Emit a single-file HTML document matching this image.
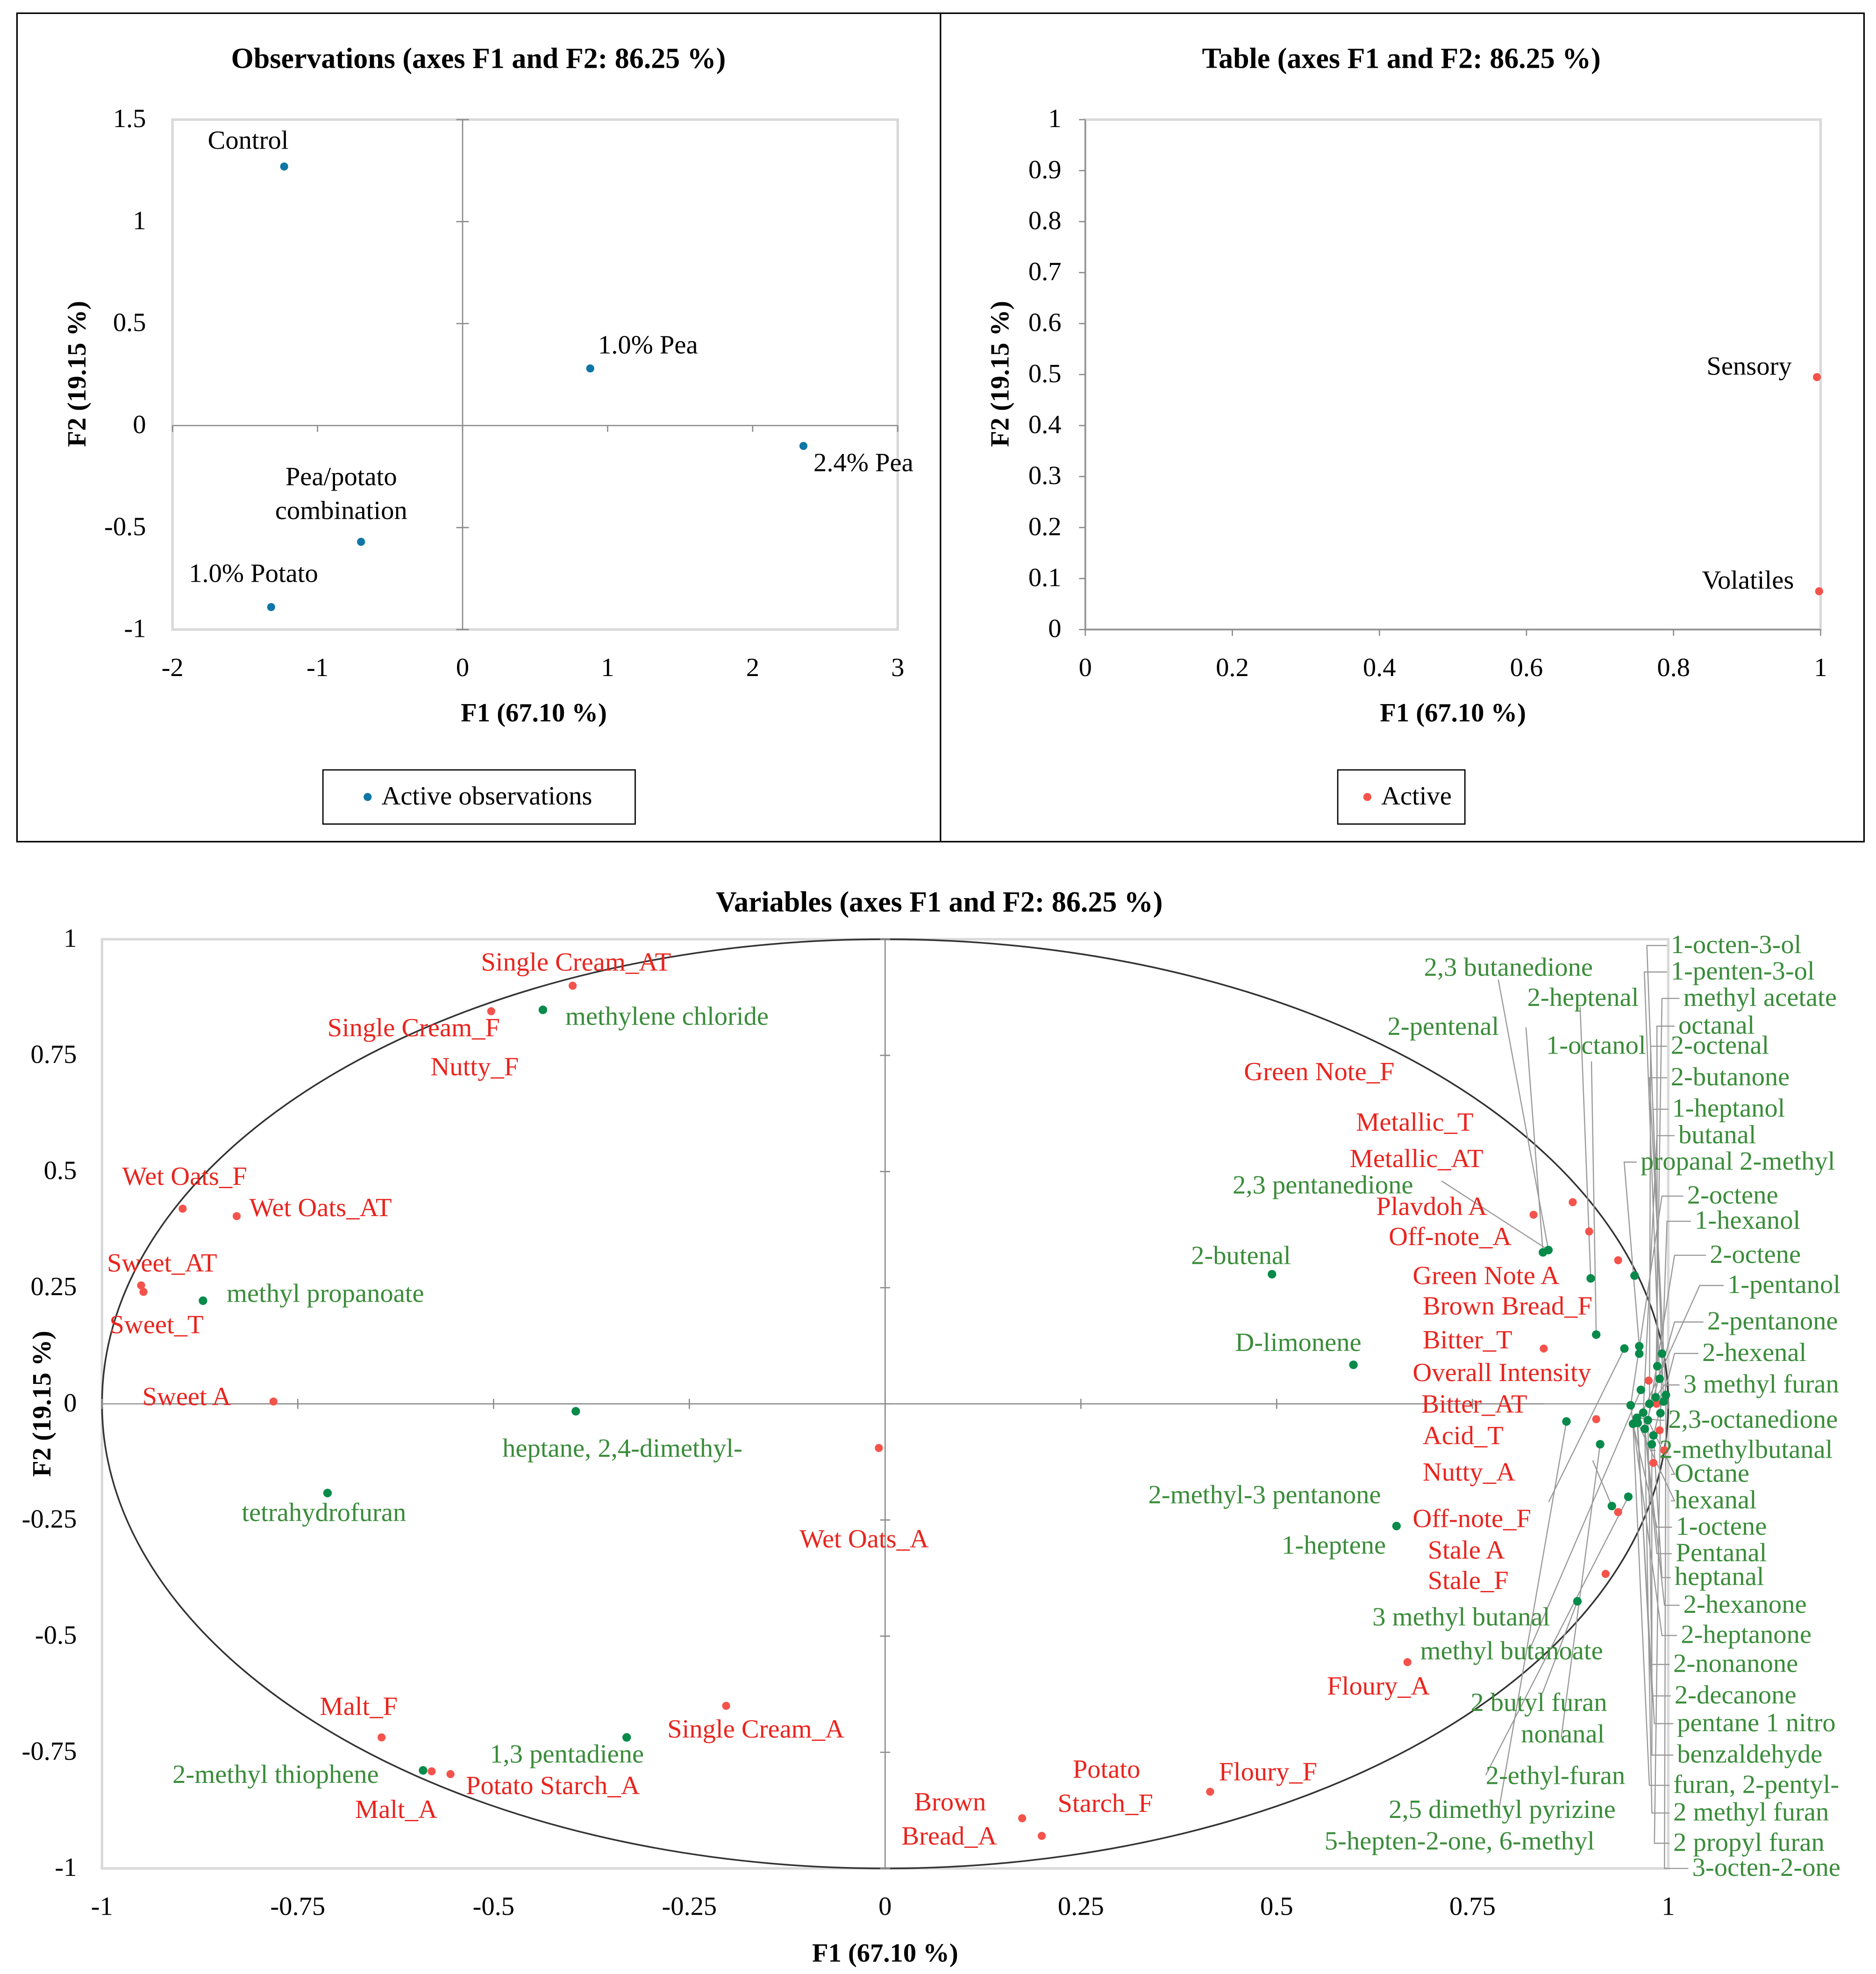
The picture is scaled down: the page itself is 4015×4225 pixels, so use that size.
<!DOCTYPE html>
<html><head><meta charset="utf-8"><style>
html,body{margin:0;padding:0;background:#fff;}
svg, svg text{font-family:"Liberation Serif","DejaVu Serif",serif;}
</style></head><body>
<svg id="s" width="4015" height="4220" viewBox="0 0 1490 1566" preserveAspectRatio="none" xmlns="http://www.w3.org/2000/svg" font-family="Liberation Serif, serif">
<rect x="0" y="0" width="1490" height="1566" fill="#fff"/>
<rect x="13.5" y="10.5" width="1467" height="658" fill="none" stroke="#000" stroke-width="1.2"/>
<line x1="747" y1="10" x2="747" y2="669" stroke="#000" stroke-width="1.2"/>
<g id="g1"></g>
<g id="g2"></g>
<g id="g3"></g>
</svg>
<script>
// ---- Observations data ----
const obsNames=["Control","1.0% Pea","2.4% Pea","Pea/potato combination","1.0% Potato"];
const obsF1=[-1.23,0.88,2.35,-0.70,-1.32];
const obsF2=[1.27,0.28,-0.10,-0.57,-0.89];
const obsXTicks=[-2,-1,0,1,2,3];
const obsYTicks=[-1,-0.5,0,0.5,1,1.5];
// ---- Table data ----
const tabNames=["Sensory","Volatiles"];
const tabF1=[0.995,0.998];
const tabF2=[0.495,0.075];
const tabXTicks=[0,0.2,0.4,0.6,0.8,1];
const tabYTicks=[0,0.1,0.2,0.3,0.4,0.5,0.6,0.7,0.8,0.9,1];
// ---- Variables data ----
const varXTicks=[-1,-0.75,-0.5,-0.25,0,0.25,0.5,0.75,1];
const varYTicks=[-1,-0.75,-0.5,-0.25,0,0.25,0.5,0.75,1];
const redF1=[-0.399,-0.503,-0.897,-0.828,-0.95,-0.947,-0.781,-0.008,-0.643,-0.579,-0.555,-0.203,0.175,0.2,0.415,0.667,0.828,0.878,0.899,0.936,0.841,0.908,0.936,0.92,0.981,0.989,0.975,0.995,0.985];
const redF2=[0.9,0.845,0.42,0.404,0.255,0.241,0.005,-0.095,-0.718,-0.791,-0.797,-0.65,-0.892,-0.93,-0.835,-0.556,0.407,0.434,0.371,0.309,0.119,-0.033,-0.233,-0.366,-0.127,-0.057,0.05,-0.1,0.0];
const greenF1=[-0.437,-0.871,-0.395,-0.712,-0.33,-0.59,0.494,0.598,0.653,0.884,0.87,0.913,0.928,0.949,0.847,0.84,0.901,0.957,0.908,0.944,0.963,0.963,0.965,0.952,0.968,0.976,0.984,0.989,0.992,0.986,0.961,0.974,0.955,0.981,0.97,0.994,0.997,0.979,0.96,0.99];
const greenF2=[0.848,0.222,-0.016,-0.192,-0.718,-0.789,0.279,0.084,-0.263,-0.425,-0.038,-0.087,-0.22,-0.2,0.331,0.326,0.27,0.276,0.149,0.119,0.124,0.108,0.03,-0.003,-0.019,0,0.014,0.054,0.108,0.081,-0.041,-0.035,-0.043,-0.068,-0.054,0.005,0.019,-0.087,-0.03,-0.02];

const NS="http://www.w3.org/2000/svg";
const FF="Liberation Serif, serif";
function mk(parent,tag,attrs,txt){const e=document.createElementNS(NS,tag);for(const k in attrs)e.setAttribute(k,attrs[k]);if(tag==='text')e.setAttribute('font-family',FF);if(txt!==undefined)e.textContent=txt;parent.appendChild(e);return e;}
function lin(d0,d1,r0,r1){return v=>r0+(v-d0)*(r1-r0)/(d1-d0);}
function fmt(v){return String(v);}
const TS=21, LS=21, HS=23;

// ================= Observations =================
(function(){
const g=document.getElementById('g1');
const X=lin(-2,3,137,713), Y=lin(-1,1.5,500,95);
const fr=mk(g,'rect',{x:137,y:95,width:576,height:405,fill:'none',stroke:'#d9d9d9','stroke-width':2});


mk(g,'line',{x1:X(-2),y1:Y(0),x2:X(3),y2:Y(0),stroke:'#8c8c8c','stroke-width':1});
mk(g,'line',{x1:X(0),y1:Y(-1),x2:X(0),y2:Y(1.5),stroke:'#8c8c8c','stroke-width':1});
obsXTicks.forEach(t=>{mk(g,'line',{x1:X(t),y1:Y(0),x2:X(t),y2:Y(0)+5,stroke:'#8c8c8c'});
 const e=mk(g,'text',{x:X(t),y:537,'font-size':TS,'text-anchor':'middle'},fmt(t));
 
 });
obsYTicks.forEach(t=>{mk(g,'line',{x1:X(0)-5,y1:Y(t),x2:X(0)+5,y2:Y(t),stroke:'#8c8c8c'});
 const e=mk(g,'text',{x:116,y:Y(t)+6,'font-size':TS,'text-anchor':'end'},fmt(t));
 
 });
const ti=mk(g,'text',{x:380,y:54,'font-size':HS,'font-weight':'bold','text-anchor':'middle'},'Observations (axes F1 and F2: 86.25 %)');

const xt=mk(g,'text',{x:424,y:573,'font-size':TS,'font-weight':'bold','text-anchor':'middle'},'F1 (67.10 %)');

const yt=mk(g,'text',{x:0,y:0,'font-size':TS,'font-weight':'bold','text-anchor':'middle',transform:'translate(68,297) rotate(-90)'},'F2 (19.15 %)');

const lo=[[-10,-14,'end',1],[8,-12,'start',1],[8,20,'start',1],[0,-46,'middle',2],[-10,-20,'end',1]];
obsNames.forEach((n,i)=>{const c=mk(g,'circle',{cx:X(obsF1[i]),cy:Y(obsF2[i]),r:3.2,fill:'#0f76a6'});
 
 const o=lo[i];
 if(o[3]===2){const t1=mk(g,'text',{x:271,y:Y(obsF2[i])-45,'font-size':LS,'text-anchor':'middle'},'Pea/potato');
  const t2=mk(g,'text',{x:271,y:Y(obsF2[i])-18,'font-size':LS,'text-anchor':'middle'},'combination');
  
  }
 else{let x=X(obsF1[i])+o[0],a=o[2];if(i===0){x=165;a='start';}if(i===4){x=150;a='start';}if(i===1){x=475;a='start';}
  const t=mk(g,'text',{x:x,y:Y(obsF2[i])+o[1],'font-size':LS,'text-anchor':a},n);
  }
});
const lg=mk(g,'rect',{x:256.5,y:611.5,width:248,height:43,fill:'none',stroke:'#000','stroke-width':1});

mk(g,'circle',{cx:292,cy:633,r:3.2,fill:'#0f76a6'});
const lt=mk(g,'text',{x:303,y:639,'font-size':LS},'Active observations');

})();

// ================= Table =================
(function(){
const g=document.getElementById('g2');
const X=lin(0,1,862,1446), Y=lin(0,1,500,95);
const fr=mk(g,'rect',{x:862,y:95,width:584,height:405,fill:'none',stroke:'#d9d9d9','stroke-width':2});

mk(g,'line',{x1:X(0),y1:Y(0),x2:X(1),y2:Y(0),stroke:'#8c8c8c'});
mk(g,'line',{x1:X(0),y1:Y(0),x2:X(0),y2:Y(1),stroke:'#8c8c8c'});
tabXTicks.forEach(t=>{mk(g,'line',{x1:X(t),y1:Y(0),x2:X(t),y2:Y(0)+5,stroke:'#8c8c8c'});
 const e=mk(g,'text',{x:X(t),y:537,'font-size':TS,'text-anchor':'middle'},fmt(t));
 });
tabYTicks.forEach(t=>{mk(g,'line',{x1:X(0)-5,y1:Y(t),x2:X(0),y2:Y(t),stroke:'#8c8c8c'});
 const e=mk(g,'text',{x:843,y:Y(t)+6,'font-size':TS,'text-anchor':'end'},fmt(t));
 });
const ti=mk(g,'text',{x:1113,y:54,'font-size':HS,'font-weight':'bold','text-anchor':'middle'},'Table (axes F1 and F2: 86.25 %)');

const xt=mk(g,'text',{x:1154,y:573,'font-size':TS,'font-weight':'bold','text-anchor':'middle'},'F1 (67.10 %)');

const yt=mk(g,'text',{x:0,y:0,'font-size':TS,'font-weight':'bold','text-anchor':'middle',transform:'translate(801,297) rotate(-90)'},'F2 (19.15 %)');

tabNames.forEach((n,i)=>{const c=mk(g,'circle',{cx:X(tabF1[i]),cy:Y(tabF2[i]),r:3.2,fill:'#f4534c'});
 
 const t=mk(g,'text',{x:X(tabF1[i])-20,y:Y(tabF2[i])-2,'font-size':LS,'text-anchor':'end'},n);
 });
const lg=mk(g,'rect',{x:1062.5,y:611.5,width:101,height:43,fill:'none',stroke:'#000'});

mk(g,'circle',{cx:1086,cy:633,r:3.2,fill:'#f4534c'});
const lt=mk(g,'text',{x:1097,y:639,'font-size':LS},'Active');

})();

// ================= Variables =================
(function(){
const g=document.getElementById('g3');
const X=lin(-1,1,81,1325), Y=lin(-1,1,1484,746);
const fr=mk(g,'rect',{x:81,y:746,width:1244,height:738,fill:'none',stroke:'#d9d9d9','stroke-width':2});

mk(g,'line',{x1:X(-1),y1:Y(0),x2:X(1),y2:Y(0),stroke:'#8c8c8c'});
mk(g,'line',{x1:X(0),y1:Y(-1),x2:X(0),y2:Y(1),stroke:'#8c8c8c'});
const el=mk(g,'ellipse',{cx:X(0),cy:Y(0),rx:X(1)-X(0),ry:Y(0)-Y(1),fill:'none',stroke:'#333','stroke-width':1.3});

varXTicks.forEach(t=>{mk(g,'line',{x1:X(t),y1:Y(0)-4,x2:X(t),y2:Y(0)+4,stroke:'#8c8c8c'});
 const e=mk(g,'text',{x:X(t),y:1521,'font-size':TS,'text-anchor':'middle'},fmt(t));
 });
varYTicks.forEach(t=>{mk(g,'line',{x1:X(0)-4,y1:Y(t),x2:X(0)+4,y2:Y(t),stroke:'#8c8c8c'});
 const e=mk(g,'text',{x:61,y:Y(t)+6,'font-size':TS,'text-anchor':'end'},fmt(t));
 });
const ti=mk(g,'text',{x:746,y:724,'font-size':HS,'font-weight':'bold','text-anchor':'middle'},'Variables (axes F1 and F2: 86.25 %)');

const xt=mk(g,'text',{x:703,y:1558,'font-size':TS,'font-weight':'bold','text-anchor':'middle'},'F1 (67.10 %)');

const yt=mk(g,'text',{x:0,y:0,'font-size':TS,'font-weight':'bold','text-anchor':'middle',transform:'translate(40,1115) rotate(-90)'},'F2 (19.15 %)');


const rightLabels=[["1-octen-3-ol",1327,751,1308,28],["1-penten-3-ol",1327,772,1306,27],["methyl acetate",1337,793,1320,26],["octanal",1333,815,1316,29],["2-octenal",1327,831,1311,25],["2-butanone",1327,856,1310,36],["1-heptanol",1328,881,1313,35],["butanal",1333,902,1316,24],["propanal 2-methyl",1303,923,1290,20],["2-octene",1340,950,1320,23],["1-hexanol",1346,970,1324,39],["2-octene",1358,997,1330,31],["1-pentanol",1372,1021,1350,30],["2-pentanone",1356,1050,1330,34],["2-hexenal",1352,1075,1330,33],["3 methyl furan",1337,1100,1322,26],["2,3-octanedione",1325,1128,1318,38],["2-methylbutanal",1318,1152,1312,37],["Octane",1330,1171,1330,31],["hexanal",1330,1192,1330,30],["1-octene",1331,1213,1316,32],["Pentanal",1331,1234,1316,34],["heptanal",1330,1253,1320,33],["2-hexanone",1337,1275,1322,24],["2-heptanone",1335,1299,1320,23],["2-nonanone",1329,1322,1312,31],["2-decanone",1330,1347,1312,30],["pentane 1 nitro",1332,1369,1314,38],["benzaldehyde",1332,1394,1312,37],["furan, 2-pentyl-",1329,1418,1310,32],["2 methyl furan",1329,1440,1312,34],["2 propyl furan",1329,1464,1314,39],["3-octen-2-one",1344,1484,1322,36]];
rightLabels.forEach(r=>{mk(g,'polyline',{points:`${r[1]-3},${r[2]} ${r[3]},${r[2]} ${X(greenF1[r[4]])},${Y(greenF2[r[4]])}`,fill:'none',stroke:'#999','stroke-width':0.9});});
const innerLeaders=[[1190,778,14],[1212,816,15],[1255,800,16],[1264,843,18],[1145,938,14],[1230,1193,19],[1240,1380,11],[1265,1160,12],[1180,1410,13],[1190,1440,10],[1215,1310,22],[1225,1345,9]];
innerLeaders.forEach(r=>{mk(g,'line',{x1:r[0],y1:r[1],x2:X(greenF1[r[2]]),y2:Y(greenF2[r[2]]),stroke:'#999','stroke-width':0.9});});
mk(g,'line',{x1:1226,y1:1115,x2:1300,y2:1115,stroke:'#999','stroke-width':0.9});
mk(g,'line',{x1:81,y1:1115,x2:113,y2:1115,stroke:'#999','stroke-width':0.9});

redF1.forEach((v,i)=>{const c=mk(g,'circle',{cx:X(v),cy:Y(redF2[i]),r:3.2,fill:'#f4534c'});
 });
greenF1.forEach((v,i)=>{const c=mk(g,'circle',{cx:X(v),cy:Y(greenF2[i]),r:3.4,fill:'#078a4a'});
 });

const redLabels=[["Single Cream_AT",382,765],["Single Cream_F",260,817],["Nutty_F",342,848],["Wet Oats_F",97,935],["Wet Oats_AT",198,960],["Sweet_AT",85,1004],["Sweet_T",87,1053],["Sweet A",113,1110],["Wet Oats_A",635,1223],["Malt_F",254,1356],["Malt_A",282,1438],["Potato Starch_A",370,1419],["Single Cream_A",530,1374],["Green Note_F",988,852],["Metallic_T",1077,892],["Metallic_AT",1072,921],["Plavdoh  A",1093,959],["Off-note_A",1103,983],["Green Note  A",1122,1014],["Brown Bread_F",1130,1038],["Bitter_T",1130,1065],["Overall Intensity",1122,1091],["Bitter_AT",1129,1116],["Acid_T",1130,1141],["Nutty_A",1130,1170],["Off-note_F",1122,1207],["Stale  A",1134,1232],["Stale_F",1134,1256],["Floury_A",1054,1340],["Floury_F",968,1408],["Potato",852,1406],["Starch_F",840,1433],["Brown",726,1432],["Bread_A",716,1459]];
redLabels.forEach(r=>{const t=mk(g,'text',{x:r[1],y:r[2]+6,'font-size':LS,fill:'#e8251f'},r[0]);
 });
const greenLabels=[["methylene chloride",449,808],["methyl propanoate",180,1028],["heptane, 2,4-dimethyl-",399,1151],["tetrahydrofuran",192,1202],["1,3 pentadiene",389,1394],["2-methyl thiophene",137,1410],["2,3 butanedione",1131,769],["2-heptenal",1213,793],["2-pentenal",1102,816],["1-octanol",1228,831],["2,3 pentanedione",979,942],["2-butenal",946,998],["D-limonene",981,1067],["2-methyl-3 pentanone",912,1188],["1-heptene",1018,1228],["3 methyl butanal",1090,1285],["methyl butanoate",1128,1312],["2 butyl furan",1168,1353],["nonanal",1208,1378],["2-ethyl-furan",1180,1411],["2,5 dimethyl pyrizine",1103,1438],["5-hepten-2-one, 6-methyl",1052,1463]];
greenLabels.concat(rightLabels.map(r=>[r[0],r[1],r[2]])).forEach(r=>{const t=mk(g,'text',{x:r[1],y:r[2]+6,'font-size':LS,fill:'#3a8c3a'},r[0]);
 });
})();
</script>
</body></html>
